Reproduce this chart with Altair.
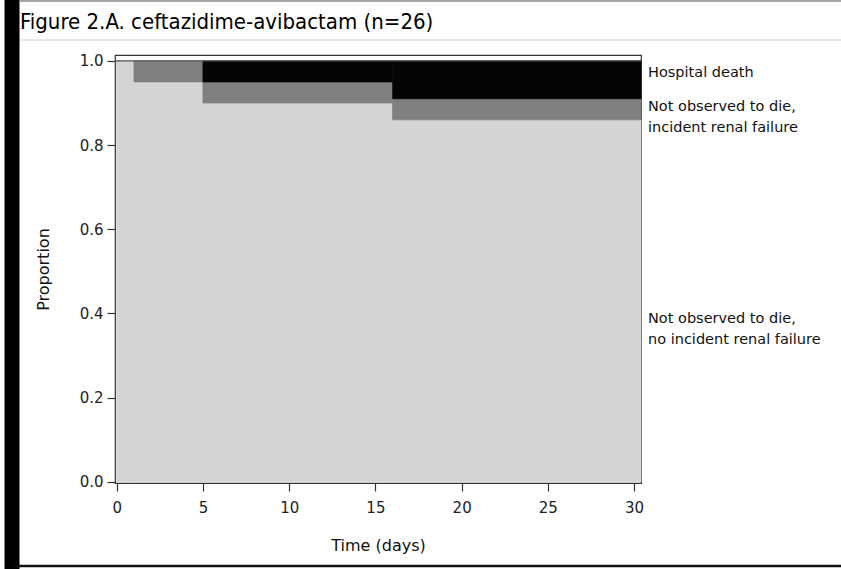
import altair as alt
import pandas as pd

# ---- data ----
step_start = [0, 1, 5, 16]
step_end = [1, 5, 16, 30.4]
alive_no_rf = [1.00, 0.95, 0.90, 0.86]   # Not observed to die, no incident renal failure
alive_rf = [0.00, 0.05, 0.05, 0.05]      # Not observed to die, incident renal failure
death = [0.00, 0.00, 0.05, 0.09]         # Hospital death

outcomes = ["no_rf", "rf", "death"]
outcome_colors = ["#d4d4d4", "#808080", "#050505"]

label_text = ["Hospital death",
              "Not observed to die,\nincident renal failure",
              "Not observed to die,\nno incident renal failure"]
label_y = [0.971, 0.891, 0.387]

title_text = "Figure 2.A. ceftazidime-avibactam (n=26)"
x_ticks = [0, 5, 10, 15, 20, 25, 30]
y_ticks = [0.0, 0.2, 0.4, 0.6, 0.8, 1.0]

# ---- build stacked step table ----
rows = []
for i in range(len(step_start)):
    lo = 0.0
    for name, vals in zip(outcomes, [alive_no_rf, alive_rf, death]):
        hi = lo + vals[i]
        if vals[i] > 0:
            rows.append({"t0": step_start[i], "t1": step_end[i], "lo": lo, "hi": hi, "outcome": name})
        lo = hi
bands = pd.DataFrame(rows)
labels = pd.DataFrame({"text": label_text, "y": label_y})

W, H = 526, 428
xs = alt.Scale(domain=[-0.1, 30.4], nice=False, zero=False)
ys = alt.Scale(domain=[-0.003, 1.014], nice=False, zero=False)

base_font = "DejaVu Sans"
col_scale = alt.Scale(domain=outcomes, range=outcome_colors)

area = alt.Chart(bands).mark_rect(strokeWidth=0.8).encode(
    x=alt.X("t0:Q", scale=xs,
            axis=alt.Axis(values=x_ticks, title="Time (days)", tickSize=8,
                          labelPadding=9, titlePadding=22, grid=False, domain=False)),
    x2="t1:Q",
    y=alt.Y("lo:Q", scale=ys,
            axis=alt.Axis(values=y_ticks, format=".1f", title="Proportion", tickSize=8,
                          labelPadding=4, titlePadding=28, grid=False, domain=False)),
    y2="hi:Q",
    color=alt.Color("outcome:N", scale=col_scale, legend=None),
    stroke=alt.Stroke("outcome:N", scale=col_scale, legend=None),
)

top_line = alt.Chart(pd.DataFrame({"y": [1.0]})).mark_rule(color="#555555", strokeWidth=1.2).encode(
    y=alt.Y("y:Q", scale=ys), x=alt.value(0), x2=alt.value(W)
)

side_labels = alt.Chart(labels).mark_text(
    align="left", baseline="middle", font=base_font, fontSize=14.5, lineHeight=21,
    color="#111111", lineBreak="\n", clip=False
).encode(
    x=alt.value(W + 7),
    y=alt.Y("y:Q", scale=ys),
    text="text:N",
)

title_mark = alt.Chart(pd.DataFrame({"t": [title_text]})).mark_text(
    align="left", baseline="alphabetic", font="DejaVu Sans Condensed",
    fontSize=22, color="#000000", clip=False
).encode(x=alt.value(-95), y=alt.value(-26), text="t:N")

# page decorations (scan frame)
left_bar = alt.Chart(pd.DataFrame({"a": [0]})).mark_rule(color="#000000", strokeWidth=15, clip=False).encode(
    x=alt.value(-103), y=alt.value(-55), y2=alt.value(514)
)
bottom_line = alt.Chart(pd.DataFrame({"a": [0]})).mark_rule(color="#111111", strokeWidth=2.5, clip=False).encode(
    y=alt.value(511), x=alt.value(-100), x2=alt.value(726)
)
sep_line = alt.Chart(pd.DataFrame({"a": [0]})).mark_rule(color="#d0d0d0", strokeWidth=1, clip=False).encode(
    y=alt.value(-15), x=alt.value(-95), x2=alt.value(726)
)
top_page_line = alt.Chart(pd.DataFrame({"a": [0]})).mark_rule(color="#888888", strokeWidth=1.5, clip=False).encode(
    y=alt.value(-54), x=alt.value(-95), x2=alt.value(726)
)

chart = alt.layer(
    area, top_line, side_labels, title_mark, left_bar, bottom_line, sep_line, top_page_line
).properties(
    width=W, height=H,
    autosize=alt.AutoSizeParams(type="none"),
    padding={"left": 115, "top": 55, "right": 200, "bottom": 86},
    background="white",
).configure_view(
    stroke="#333333", strokeWidth=1.2
).configure_axis(
    labelFont=base_font, titleFont=base_font, labelFontSize=15, titleFontSize=16,
    labelColor="#222222", titleColor="#111111", tickColor="#333333", tickWidth=1.2,
    titleFontWeight="normal"
)

chart.save("out.html", embed_options={"renderer": "svg", "actions": False})
